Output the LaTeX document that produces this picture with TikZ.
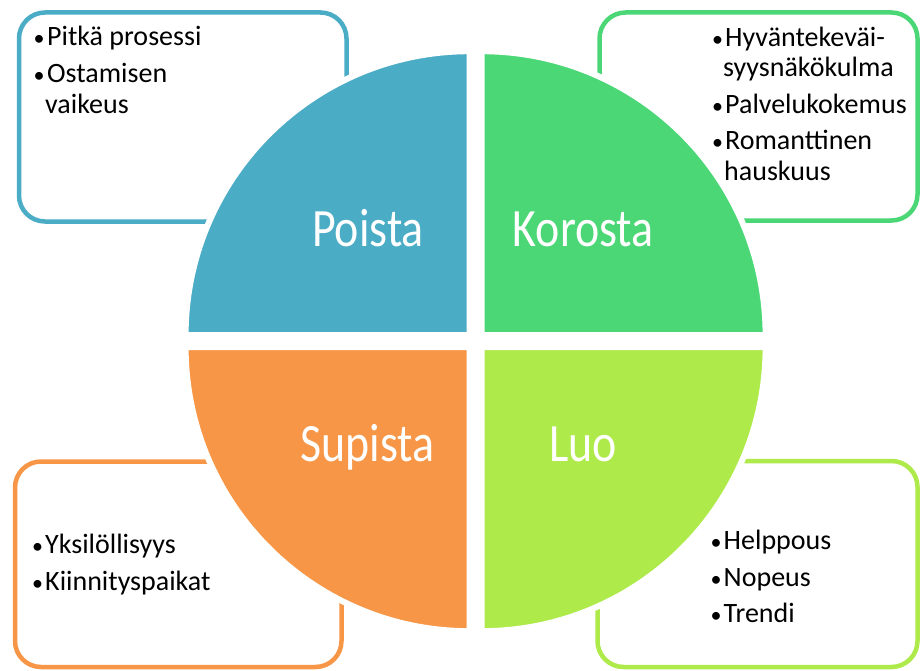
\documentclass[tikz,border=0pt]{standalone}
\usepackage{fontspec}
\setmainfont{Carlito}
\newfontfamily\labfont[FakeStretch=0.85]{Carlito}
\definecolor{qblue}{HTML}{4BACC6}
\definecolor{qgreen}{HTML}{4BD776}
\definecolor{qlime}{HTML}{AEEA4A}
\definecolor{qorange}{HTML}{F79646}
\tikzset{
  box/.style={line width=4.5pt, rounded corners=26pt, fill=white},
  quad/.style={draw=white, line width=6pt, line join=miter},
  txt/.style={inner sep=0pt, anchor=base west, font=\fontsize{28}{31}\selectfont, text=black},
  bul/.style={inner sep=0pt, anchor=base, font=\fontsize{22}{26}\selectfont, text=black},
  lab/.style={inner sep=0pt, anchor=base, text=white, font=\labfont\fontsize{54}{60}\selectfont}
}
\begin{document}
\begin{tikzpicture}[x=1pt,y=-1pt]
\useasboundingbox (0,0) rectangle (920,671);
% boxes
\draw[box, draw=qblue]   (19,12.5) rectangle (346.5,221.5);
\draw[box, draw=qgreen]  (599.5,12.5) rectangle (917.5,220.5);
\draw[box, draw=qorange] (15,461.5) rectangle (341.5,667);
\draw[box, draw=qlime]   (597.5,461) rectangle (917.5,667);
% quadrants
\fill[qblue, quad]   (469.6,335.2) -- ++(180:284) arc[start angle=180, end angle=270, radius=284] -- cycle;
\fill[qgreen, quad]  (481.6,335.2) -- ++(0:284) arc[start angle=0, end angle=-90, radius=284] -- cycle;
\fill[qorange, quad] (469.6,347.2) -- ++(180:284) arc[start angle=180, end angle=90, radius=284] -- cycle;
\fill[qlime, quad]   (481.6,347.2) -- ++(0:284) arc[start angle=0, end angle=90, radius=284] -- cycle;
% labels
\node[lab] (poista)  at (368,246.7) {Poista};
\node[lab] (korosta) at (583.3,246.7) {Korosta};
\node[lab] (supista) at (367.5,461.7) {Supista};
\node[lab] (luo)     at (583.3,461.7) {Luo};
% top-left text
\node[bul] (b1) at (39,45.7) {•};
\node[txt] (t1) at (47,45.7) {Pitkä prosessi};
\node[bul] (b2) at (39,82.3) {•};
\node[txt] (t2) at (47,82.3) {Ostamisen};
\node[txt] (t2b) at (45,113.3) {vaikeus};
% top-right text
\node[bul] (b3) at (717.5,46.5) {•};
\node[txt] (t3) at (725,46.5) {Hyväntekeväi-};
\node[txt] (t3b) at (723,77) {syysnäkökulma};
\node[bul] (b4) at (717.5,113.5) {•};
\node[txt] (t4) at (725,113.5) {Palvelukokemus};
\node[bul] (b5) at (717.5,149.5) {•};
\node[txt] (t5) at (725,149.5) {Romanttinen};
\node[txt] (t5b) at (724,180) {hauskuus};
% bottom-left text
\node[bul] (b6) at (37.5,553) {•};
\node[txt] (t6) at (45,553) {Yksilöllisyys};
\node[bul] (b7) at (37.5,590) {•};
\node[txt] (t7) at (45,590) {Kiinnityspaikat};
% bottom-right text
\node[bul] (b8) at (716,549) {•};
\node[txt] (t8) at (723.5,549) {Helppous};
\node[bul] (b9) at (716,586) {•};
\node[txt] (t9) at (723.5,586) {Nopeus};
\node[bul] (b10) at (716,622) {•};
\node[txt] (t10) at (723.5,622) {Trendi};
\end{tikzpicture}
\end{document}
